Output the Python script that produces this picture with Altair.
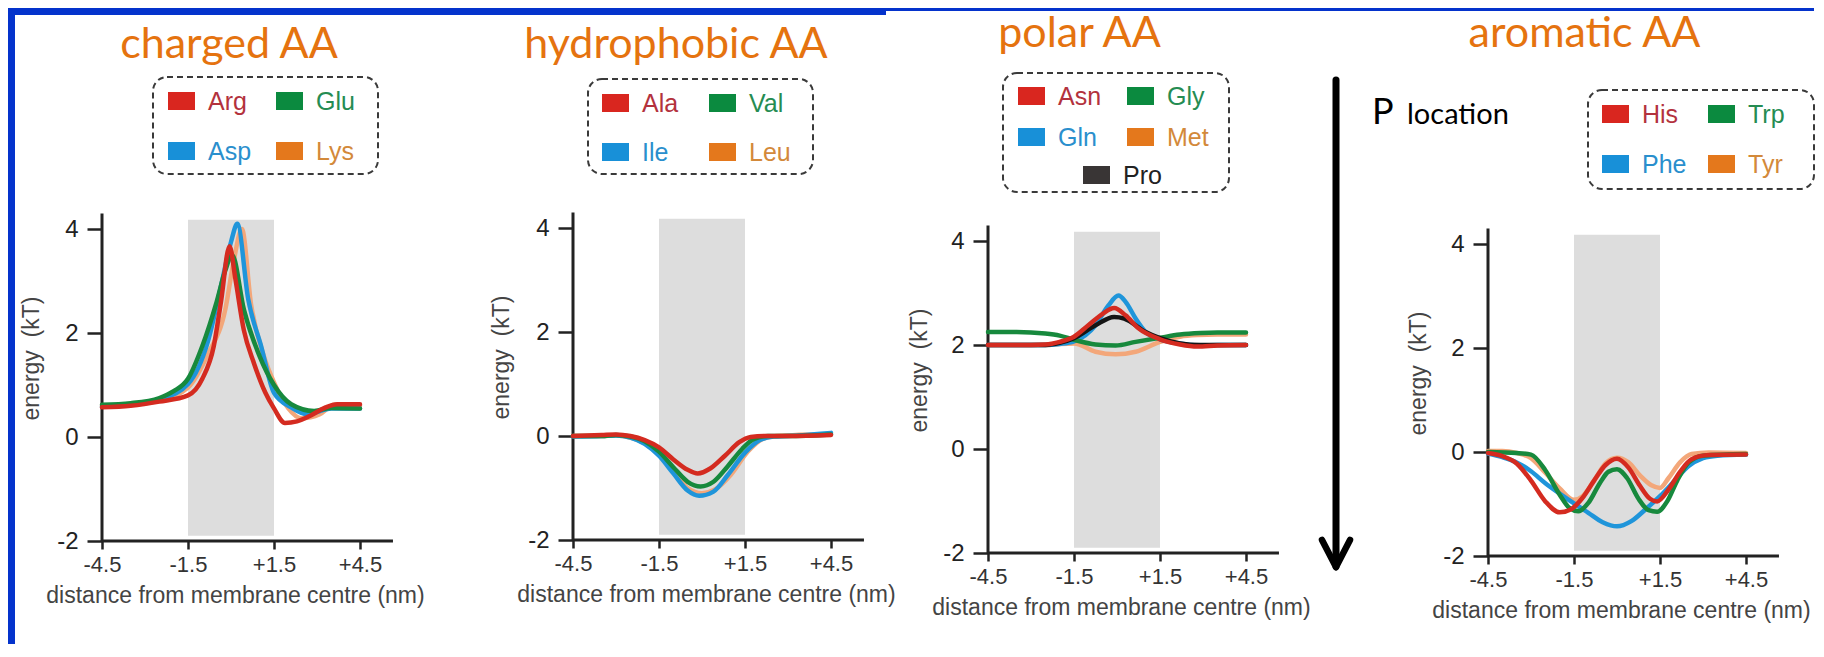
import altair as alt
import pandas as pd

# ---------------- data ----------------
X_TICKS = [-4.5, -1.5, 1.5, 4.5]
Y_TICKS = [-2, 0, 2, 4]
BAND_X = [-1.5, 1.5]
BAND_Y = [-1.9, 4.18]

# charged AA
ARG_X = [-4.5, -3.5, -2.5, -1.5, -1.0, -0.6, -0.35, -0.05, 0.15, 0.45, 0.8, 1.2, 1.5, 1.88, 2.3, 2.8, 3.3, 3.7, 4.5]
ARG_Y = [0.57, 0.60, 0.68, 0.80, 1.12, 1.75, 2.60, 3.67, 3.05, 2.05, 1.42, 0.85, 0.55, 0.27, 0.30, 0.42, 0.57, 0.63, 0.63]
GLU_X = [-4.5, -3.5, -2.5, -2.0, -1.5, -1.0, -0.5, -0.2, 0.04, 0.45, 1.0, 1.5, 2.1, 2.9, 3.5, 4.5]
GLU_Y = [0.62, 0.65, 0.75, 0.88, 1.12, 1.75, 2.60, 3.20, 3.50, 2.45, 1.55, 1.00, 0.63, 0.50, 0.56, 0.55]
ASP_X = [-4.5, -3.5, -2.5, -1.5, -0.8, -0.35, 0.0, 0.22, 0.6, 1.05, 1.5, 2.1, 2.65, 3.5, 4.5]
ASP_Y = [0.58, 0.62, 0.72, 1.02, 1.85, 2.90, 3.75, 4.10, 2.65, 1.75, 0.85, 0.57, 0.44, 0.55, 0.55]
LYS_X = [-4.5, -3.5, -2.5, -1.5, -0.8, -0.2, 0.1, 0.38, 0.7, 1.15, 1.5, 2.0, 2.45, 3.1, 3.6, 4.5]
LYS_Y = [0.60, 0.62, 0.70, 0.95, 1.60, 2.45, 3.40, 4.00, 2.55, 1.55, 1.05, 0.55, 0.36, 0.44, 0.62, 0.60]

# hydrophobic AA
ALA_X = [-4.5, -3.5, -3.0, -2.5, -2.0, -1.5, -1.0, -0.5, -0.15, 0.3, 0.8, 1.3, 1.7, 2.2, 3.0, 4.5]
ALA_Y = [0.0, 0.02, 0.03, 0.0, -0.08, -0.22, -0.45, -0.65, -0.72, -0.62, -0.38, -0.12, -0.02, 0.0, 0.0, 0.02]
VAL_X = [-4.5, -3.5, -3.0, -2.5, -2.0, -1.5, -1.0, -0.5, -0.05, 0.4, 0.9, 1.4, 1.8, 2.3, 3.0, 4.5]
VAL_Y = [0.0, 0.0, 0.02, -0.01, -0.10, -0.30, -0.60, -0.88, -0.97, -0.88, -0.58, -0.25, -0.06, 0.0, 0.0, 0.03]
ILE_X = [-4.5, -3.5, -3.0, -2.5, -2.0, -1.5, -1.0, -0.5, -0.1, 0.4, 0.9, 1.5, 2.0, 2.5, 3.0, 4.5]
ILE_Y = [-0.01, 0.0, 0.01, -0.03, -0.15, -0.38, -0.72, -1.05, -1.15, -1.07, -0.75, -0.32, -0.08, -0.01, 0.0, 0.06]
LEU_X = [-4.5, -3.5, -3.0, -2.5, -2.0, -1.5, -1.0, -0.5, 0.0, 0.45, 1.0, 1.6, 2.1, 2.6, 4.5]
LEU_Y = [0.0, 0.0, 0.01, -0.03, -0.14, -0.35, -0.68, -1.0, -1.1, -1.03, -0.75, -0.30, -0.06, 0.0, 0.04]

# polar AA
ASN_X = [-4.5, -3.5, -2.5, -2.0, -1.5, -1.0, -0.5, -0.1, 0.3, 0.75, 1.5, 2.2, 2.8, 3.5, 4.5]
ASN_Y = [2.0, 2.0, 2.01, 2.06, 2.16, 2.38, 2.60, 2.71, 2.57, 2.32, 2.11, 2.01, 1.97, 1.99, 2.0]
GLY_X = [-4.5, -3.5, -2.5, -2.0, -1.5, -0.75, -0.05, 0.65, 1.5, 2.2, 2.9, 3.5, 4.5]
GLY_Y = [2.25, 2.25, 2.22, 2.18, 2.10, 2.01, 1.99, 2.06, 2.14, 2.20, 2.23, 2.24, 2.24]
GLN_X = [-4.5, -3.5, -2.5, -2.0, -1.5, -0.75, -0.3, 0.05, 0.3, 0.65, 1.0, 1.5, 2.2, 2.9, 3.5, 4.5]
GLN_Y = [2.0, 2.0, 2.0, 2.02, 2.07, 2.38, 2.76, 2.95, 2.83, 2.51, 2.25, 2.11, 2.03, 1.99, 2.0, 2.0]
MET_X = [-4.5, -3.5, -2.5, -2.0, -1.5, -0.75, -0.05, 0.65, 1.5, 2.2, 2.8, 3.5, 4.5]
MET_Y = [2.0, 2.0, 2.0, 2.02, 2.03, 1.87, 1.82, 1.87, 2.06, 2.16, 2.19, 2.20, 2.20]
PRO_X = [-4.5, -3.5, -2.5, -2.0, -1.5, -0.75, -0.1, 0.25, 1.0, 1.5, 2.2, 2.9, 3.5, 4.5]
PRO_Y = [2.0, 2.0, 2.0, 2.04, 2.13, 2.38, 2.54, 2.51, 2.25, 2.13, 2.03, 2.0, 2.0, 2.0]

# aromatic AA
HIS_X = [-4.5, -4.0, -3.5, -3.0, -2.5, -2.0, -1.6, -1.2, -0.8, -0.4, 0.0, 0.4, 0.8, 1.15, 1.4, 1.8, 2.2, 2.6, 3.2, 4.5]
HIS_Y = [-0.02, -0.08, -0.22, -0.55, -0.95, -1.16, -1.10, -0.88, -0.55, -0.25, -0.13, -0.30, -0.65, -0.90, -0.95, -0.72, -0.38, -0.14, -0.06, -0.05]
TRP_X = [-4.5, -3.5, -3.0, -2.5, -2.0, -1.65, -1.35, -1.0, -0.6, -0.3, 0.0, 0.35, 0.75, 1.1, 1.4, 1.75, 2.1, 2.5, 3.0, 4.5]
TRP_Y = [0.0, -0.02, -0.05, -0.35, -0.82, -1.08, -1.14, -0.98, -0.60, -0.38, -0.33, -0.50, -0.90, -1.12, -1.15, -0.95, -0.55, -0.20, -0.07, -0.04]
PHE_X = [-4.5, -4.0, -3.5, -3.0, -2.5, -2.0, -1.5, -1.0, -0.5, 0.0, 0.5, 1.0, 1.5, 2.0, 2.5, 3.0, 3.5, 4.5]
PHE_Y = [-0.03, -0.10, -0.20, -0.37, -0.60, -0.80, -0.99, -1.17, -1.35, -1.43, -1.33, -1.10, -0.85, -0.56, -0.27, -0.12, -0.07, -0.05]
TYR_X = [-4.5, -4.0, -3.5, -3.0, -2.5, -2.0, -1.5, -1.2, -0.8, -0.4, 0.0, 0.4, 0.8, 1.2, 1.5, 1.8, 2.2, 2.6, 3.2, 4.5]
TYR_Y = [0.02, 0.02, -0.02, -0.12, -0.40, -0.70, -0.92, -0.85, -0.55, -0.22, -0.11, -0.20, -0.45, -0.64, -0.69, -0.50, -0.20, -0.04, -0.01, -0.02]

TITLES = ["charged AA", "hydrophobic AA", "polar AA", "aromatic AA"]
X_TITLE = "distance from membrane centre (nm)"
Y_TITLE = "energy\u00a0 (kT)"

# ---------------- styles ----------------
LINE_COLORS = {"red": "#d42b20", "green": "#17893d", "blue": "#1f95da", "orange": "#f3a77a", "black": "#151515"}
SWATCH_COLORS = {"red": "#d9261f", "green": "#0b8a3f", "blue": "#1890d8", "orange": "#e4781c", "black": "#393535"}
TEXT_COLORS = {"red": "#b3323d", "green": "#258c52", "blue": "#2a8fcd", "orange": "#d3893a", "black": "#222222"}
ORANGE = "#e5730f"
BLUE = "#0433cc"
BAND_COLOR = "#dddddd"
FONT = "Liberation Sans"
TFONT = "Lato"
PXN = 258 / 9.0   # px per nm
PXK = 52.0        # px per kT
AXIS_X_END = 5.65
AXIS_Y_END = 4.3

PANELS = [
    dict(left=94, w=471, h=533, tx=127, ty=50, ytx=-64,
         series=[("Lys", LYS_X, LYS_Y, "orange"), ("Asp", ASP_X, ASP_Y, "blue"),
                 ("Glu", GLU_X, GLU_Y, "green"), ("Arg", ARG_X, ARG_Y, "red")],
         box=(51, 69, 276, 166),
         items=[("Arg", "red", 66, 84), ("Glu", "green", 174, 84),
                ("Asp", "blue", 66, 134), ("Lys", "orange", 174, 134)]),
    dict(left=565, w=415, h=532, tx=103, ty=50, ytx=-65,
         series=[("Leu", LEU_X, LEU_Y, "orange"), ("Ile", ILE_X, ILE_Y, "blue"),
                 ("Val", VAL_X, VAL_Y, "green"), ("Ala", ALA_X, ALA_Y, "red")],
         box=(15, 71, 240, 166),
         items=[("Ala", "red", 29, 86), ("Val", "green", 136, 86),
                ("Ile", "blue", 29, 135), ("Leu", "orange", 136, 135)]),
    dict(left=980, w=500, h=545, tx=91.5, ty=39, ytx=-62,
         series=[("Met", MET_X, MET_Y, "orange"), ("Gln", GLN_X, GLN_Y, "blue"),
                 ("Gly", GLY_X, GLY_Y, "green"), ("Pro", PRO_X, PRO_Y, "black"),
                 ("Asn", ASN_X, ASN_Y, "red")],
         box=(15, 65, 241, 184),
         items=[("Asn", "red", 30, 79), ("Gly", "green", 139, 79),
                ("Gln", "blue", 30, 120), ("Met", "orange", 139, 120),
                ("Pro", "black", 95, 158)]),
    dict(left=1480, w=326, h=548, tx=96.5, ty=39, ytx=-63,
         series=[("Tyr", TYR_X, TYR_Y, "orange"), ("Phe", PHE_X, PHE_Y, "blue"),
                 ("Trp", TRP_X, TRP_Y, "green"), ("His", HIS_X, HIS_Y, "red")],
         box=(100, 82, 326, 181),
         items=[("His", "red", 114, 97), ("Trp", "green", 220, 97),
                ("Phe", "blue", 114, 147), ("Tyr", "orange", 220, 147)]),
]
SW_W, SW_H = 27, 18


def px(field):
    return alt.X(field, type="quantitative", scale=None, axis=None)


def py(field):
    return alt.Y(field, type="quantitative", scale=None, axis=None)


def x_axis():
    return alt.Axis(
        values=X_TICKS,
        labelExpr="datum.value > 0 ? '+' + format(datum.value, '.1f') : '-' + format(-datum.value, '.1f')",
        labelFont=FONT, labelFontSize=22, labelColor="#333333", labelPadding=5,
        labelFlush=False, labelOverlap=False,
        tickSize=8, tickWidth=2.5, tickColor="#222222", domain=False, grid=False,
        title=X_TITLE, titleFont=FONT, titleFontSize=23, titleFontWeight="normal",
        titleColor="#444444", titleX=133, titleY=61, titleAlign="center",
        titleBaseline="alphabetic")


def y_axis(p):
    return alt.Axis(
        values=Y_TICKS,
        labelExpr="datum.value < 0 ? '-' + format(-datum.value, 'd') : format(datum.value, 'd')",
        labelFont=FONT, labelFontSize=24, labelColor="#222222", labelPadding=9,
        labelOverlap=False,
        tickSize=15, tickWidth=2.5, tickColor="#222222", domain=False, grid=False,
        title=Y_TITLE, titleFont=FONT, titleFontSize=23, titleFontWeight="normal",
        titleColor="#444444", titleAngle=270, titleX=p["ytx"], titleY=p["h"] - 183,
        titleAlign="center", titleBaseline="alphabetic")


def build_panel(i):
    p = PANELS[i]
    xs = alt.Scale(domain=[-4.5, -4.5 + p["w"] / PXN], nice=False, zero=False)
    ys = alt.Scale(domain=[-2.0, -2.0 + p["h"] / PXK], nice=False, zero=False)
    xa, ya = x_axis(), y_axis(p)

    def X(f):
        return alt.X(f, type="quantitative", scale=xs, axis=xa)

    def Y(f):
        return alt.Y(f, type="quantitative", scale=ys, axis=ya)

    layers = []
    band_df = pd.DataFrame({"x": [BAND_X[0]], "x2": [BAND_X[1]], "y": [BAND_Y[0]], "y2": [BAND_Y[1]]})
    layers.append(alt.Chart(band_df).mark_rect(color=BAND_COLOR).encode(
        x=X("x"), x2="x2:Q", y=Y("y"), y2="y2:Q"))

    axes_df = pd.DataFrame({"x": [-4.5, -4.5], "x2": [AXIS_X_END, -4.5],
                            "y": [-2.0, -2.0], "y2": [-2.0, AXIS_Y_END]})
    layers.append(alt.Chart(axes_df).mark_rule(color="#222222", strokeWidth=3).encode(
        x=X("x"), x2="x2:Q", y=Y("y"), y2="y2:Q"))

    # one layer per series, in drawing order (last on top)
    for name, xv, yv, ck in p["series"]:
        df = pd.DataFrame({"x": xv, "y": yv, "aa": name})
        layers.append(alt.Chart(df).mark_line(
            strokeWidth=4.5, interpolate="monotone", strokeCap="round", strokeJoin="round",
            color=LINE_COLORS[ck]).encode(x=X("x"), y=Y("y"), detail="aa:N"))

    # panel title
    tdf = pd.DataFrame({"t": [TITLES[i]], "px": [p["tx"]], "py": [p["ty"]]})
    layers.append(alt.Chart(tdf).mark_text(
        font=TFONT, fontSize=43, color=ORANGE, align="center", baseline="alphabetic").encode(
        x=px("px"), y=py("py"), text="t:N"))

    # legend box
    bx0, by0, bx1, by1 = p["box"]
    bdf = pd.DataFrame({"a": [bx0], "a2": [bx1], "b": [by0], "b2": [by1]})
    layers.append(alt.Chart(bdf).mark_rect(
        fill="white", stroke="#3a3a3a", strokeWidth=2, strokeDash=[6, 4], cornerRadius=14).encode(
        x=px("a"), x2="a2:Q", y=py("b"), y2="b2:Q"))

    rows = []
    for name, ck, sx, sy in p["items"]:
        rows.append({"name": name, "a": sx, "a2": sx + SW_W, "b": sy, "b2": sy + SW_H,
                     "sc": SWATCH_COLORS[ck], "tc": TEXT_COLORS[ck],
                     "tx": sx + SW_W + 13, "ty": sy + SW_H})
    ldf = pd.DataFrame(rows)
    layers.append(alt.Chart(ldf).mark_rect().encode(
        x=px("a"), x2="a2:Q", y=py("b"), y2="b2:Q", fill=alt.Fill("sc:N", scale=None)))
    layers.append(alt.Chart(ldf).mark_text(
        font=FONT, fontSize=25, align="left", baseline="alphabetic").encode(
        x=px("tx"), y=py("ty"), text="name:N", fill=alt.Fill("tc:N", scale=None)))

    if i == 0:
        # slide frame (blue strips)
        sdf = pd.DataFrame({"a": [-94, -94, 784], "a2": [-87, 784, 1712],
                            "b": [0, 0, 0], "b2": [636, 7, 3]})
        layers.append(alt.Chart(sdf).mark_rect(color=BLUE, strokeWidth=0).encode(
            x=px("a"), x2="a2:Q", y=py("b"), y2="b2:Q"))

    if i == 2:
        adf = pd.DataFrame({"a": [348, 334, 362], "a2": [348, 348, 348],
                            "b": [72, 532, 532], "b2": [555, 559, 559],
                            "w": [7, 6.5, 6.5]})
        layers.append(alt.Chart(adf).mark_rule(color="black", strokeCap="round").encode(
            x=px("a"), x2="a2:Q", y=py("b"), y2="b2:Q",
            strokeWidth=alt.StrokeWidth("w:Q", scale=None)))
        pdf = pd.DataFrame({"t": ["P"], "px": [384], "py": [116]})
        layers.append(alt.Chart(pdf).mark_text(
            font=TFONT, fontSize=36, color="black", align="left", baseline="alphabetic").encode(
            x=px("px"), y=py("py"), text="t:N"))
        ldf2 = pd.DataFrame({"t": ["location"], "px": [419], "py": [116]})
        layers.append(alt.Chart(ldf2).mark_text(
            font=TFONT, fontSize=29, color="black", align="left", baseline="alphabetic").encode(
            x=px("px"), y=py("py"), text="t:N"))

    return alt.layer(*layers).properties(width=p["w"], height=p["h"])


panels = [build_panel(i) for i in range(4)]
chart = alt.hconcat(*panels, spacing=0, bounds="flush").properties(
    padding=0, background="white").configure_view(stroke="transparent", strokeWidth=0)

chart.save("out.html", embed_options={"renderer": "svg", "actions": False})
